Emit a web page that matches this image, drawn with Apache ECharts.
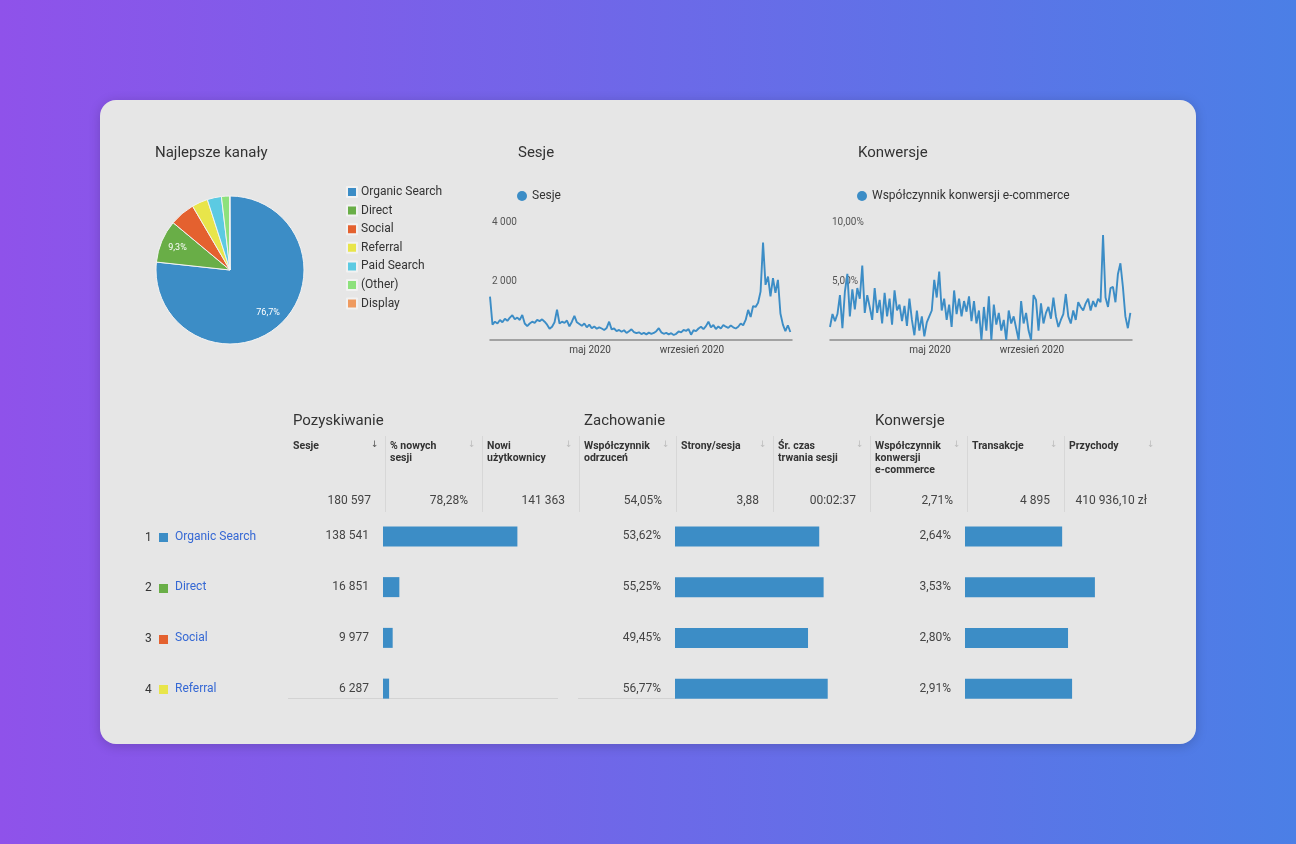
<!DOCTYPE html>
<html lang="pl">
<head>
<meta charset="utf-8">
<title>Najlepsze kanały</title>
<script src="https://cdn.jsdelivr.net/npm/echarts@6/dist/echarts.min.js"></script>
<style>
  html, body { margin: 0; padding: 0; width: 1296px; height: 844px; overflow: hidden;
    background: linear-gradient(90deg, #8f52ea 0%, #4b7fe6 100%);
    font-family: Roboto, "Noto Sans", sans-serif; }
  #card { position: absolute; left: 100px; top: 100px; width: 1096px; height: 644px;
    background: #e6e6e6; border-radius: 16px; box-shadow: 0 2px 12px rgba(0,0,0,0.18); }
  #chart { position: absolute; left: 0; top: 0; width: 1296px; height: 844px; }
  .t { position: absolute; white-space: pre; color: #333; }
  .sec { font-size: 15px; color: #333; }
  .hd { font-size: 10.5px; font-weight: bold; line-height: 12px; color: #333; }
  .arr { font-size: 9px; font-family: "DejaVu Sans", sans-serif; }
  .tot { font-size: 12px; color: #444; text-align: right; width: 90px; }
  .sep { position: absolute; width: 1px; background: #d7d7d7; }
  .num { font-size: 12px; color: #333; }
  .sq { position: absolute; width: 9px; height: 9px; }
  .ch { font-size: 12px; color: #3568d4; }
</style>
</head>
<body>
<div id="card"></div>
<div id="chart"></div>
<script>
// kanały
var channels = ["Organic Search", "Direct", "Social", "Referral", "Paid Search", "(Other)", "Display"];
var channelColors = ["#3c8dc6", "#69ae47", "#e4612f", "#e8e54a", "#5ccae2", "#8de17c", "#ef9b60"];
var channelSessions = [138541, 16851, 9977, 6287, 5600, 3140, 201];

// tabela (4 pierwsze kanały)
var tableChannels = ["Organic Search", "Direct", "Social", "Referral"];
var tableSessions = [138541, 16851, 9977, 6287];
var tableBounce = [53.62, 55.25, 49.45, 56.77];
var tableConv = [2.64, 3.53, 2.80, 2.91];

var headers = ["Sesje", "% nowych\nsesji", "Nowi\nużytkownicy", "Współczynnik\nodrzuceń", "Strony/sesja",
  "Śr. czas\ntrwania sesji", "Współczynnik\nkonwersji\ne-commerce", "Transakcje", "Przychody"];
var totals = ["180 597", "78,28%", "141 363", "54,05%", "3,88", "00:02:37", "2,71%", "4 895", "410 936,10 zł"];
var groups = [["Pozyskiwanie", 0], ["Zachowanie", 3], ["Konwersje", 6]];

// serie czasowe, co 3 dni od 1 stycznia 2020
var sessionsDaily = [
  1470, 520, 620, 560, 680, 600, 720, 650, 760, 840,
  700, 760, 680, 850, 560, 470, 560, 620, 580, 680,
  640, 700, 620, 520, 380, 450, 600, 1030, 560, 620,
  580, 660, 460, 620, 820, 600, 540, 480, 560, 430,
  520, 400, 460, 380, 430, 390, 340, 410, 620, 360,
  390, 300, 340, 280, 330, 240, 300, 360, 270, 230,
  260, 200, 240, 190, 250, 210, 240, 300, 400, 260,
  210, 240, 190, 230, 170, 210, 290, 260, 340, 310,
  370, 180, 330, 300, 390, 450, 370, 470, 620, 430,
  510, 370, 460, 390, 510, 450, 410, 490, 430, 390,
  450, 560, 500, 680, 1020, 780, 1150, 1120, 1260, 1640,
  3300, 1870, 2150, 1480, 2100, 1600, 2040, 900, 520, 300,
  500, 270
];
var convDaily = [
  1.1, 2.2, 1.6, 2.2, 3.8, 1.0, 4.1, 5.6, 2.0, 4.3,
  2.6, 4.4, 3.5, 6.3, 2.3, 3.8, 2.8, 1.7, 4.4, 2.3,
  3.4, 1.4, 4.0, 2.0, 3.5, 1.3, 4.2, 2.5, 3.0, 1.6,
  2.9, 1.2, 3.5, 1.7, 0.4, 2.5, 0.8, 2.0, 0.3, 1.5,
  2.0, 2.5, 5.1, 3.6, 5.8, 2.5, 3.5, 1.7, 3.0, 1.1,
  4.2, 2.2, 3.5, 2.0, 3.3, 2.4, 3.7, 1.6, 3.3, 1.4,
  2.5, 0.0, 2.8, 0.8, 3.7, 0.0, 3.0, 1.3, 2.3, 0.8,
  1.7, 0.0, 2.5, 1.4, 2.0, 1.0, 0.0, 3.3, 1.4, 2.3,
  0.8, 0.0, 3.8, 3.4, 0.8, 3.1, 1.4, 2.3, 2.8, 1.8,
  3.6, 2.0, 1.1, 1.7, 2.2, 3.9, 2.0, 1.4, 2.5, 1.7,
  3.2, 2.8, 2.5, 3.1, 3.5, 2.5, 3.3, 2.8, 3.5, 3.2,
  8.9, 3.6, 2.8, 4.4, 4.5, 3.2, 5.6, 6.5, 4.5, 2.0,
  1.0, 2.3
];
var monthsPl = ["styczeń", "luty", "marzec", "kwiecień", "maj", "czerwiec", "lipiec",
  "sierpień", "wrzesień", "październik", "listopad", "grudzień"];
var labelMonths = [4, 8]; // maj, wrzesień

function fmtInt(n) { return String(n).replace(/\B(?=(\d{3})+(?!\d))/g, " "); }
function fmtPct(v) { return v.toFixed(2).replace(".", ",") + "%"; }

function dayPairs(values) {
  var out = [];
  for (var i = 0; i < values.length; i++) {
    out.push([new Date(2020, 0, 1 + i * 3).getTime(), values[i]]);
  }
  return out;
}

// ---- tekst tabeli (HTML) ----
function addText(cls, html, left, top, extra) {
  var d = document.createElement("div");
  d.className = "t " + cls;
  d.textContent = html;
  d.style.left = left + "px";
  d.style.top = top + "px";
  if (extra) Object.assign(d.style, extra);
  document.body.appendChild(d);
  return d;
}
var colLeft = 288, colW = 97;
groups.forEach(function (g) {
  addText("sec", g[0], colLeft + g[1] * colW + 5, 411);
});
headers.forEach(function (h, i) {
  var x = colLeft + i * colW;
  addText("hd", h, x + 5, 440);
  addText("arr", "↓", x + 83, 439, { color: i === 0 ? "#555" : "#bdbdbd" });
  addText("tot", totals[i], x - 7, 493);
  if (i > 0) {
    var s = document.createElement("div");
    s.className = "sep";
    s.style.left = x + "px"; s.style.top = "436px"; s.style.height = "76px";
    document.body.appendChild(s);
  }
});
tableChannels.forEach(function (c, i) {
  var y = 537 + i * 50.8;
  addText("num", String(i + 1), 145, y - 7.5);
  var sq = document.createElement("div");
  sq.className = "sq";
  sq.style.left = "159px"; sq.style.top = (y - 4) + "px";
  sq.style.background = channelColors[channels.indexOf(c)];
  document.body.appendChild(sq);
  addText("ch", c, 175, y - 8.5);
});

// ---- wykresy ----
var chart = echarts.init(document.getElementById("chart"), null, { renderer: "canvas" });
var lineColor = "#3c8dc6";
var font = "Roboto";
var DAY = 86400000;

function timeAxis(gi) {
  return {
    type: "time", gridIndex: gi,
    min: new Date(2020, 0, 1).getTime(), max: new Date(2020, 11, 31).getTime(),
    minInterval: 28 * DAY, maxInterval: 31 * DAY,
    axisLine: { lineStyle: { color: "#8c8c8c", width: 1.5 } },
    axisTick: { show: false },
    splitLine: { show: false },
    axisLabel: {
      showMinLabel: false, showMaxLabel: false, hideOverlap: false,
      formatter: function (v) {
        var d = new Date(v);
        return labelMonths.indexOf(d.getMonth()) >= 0 && d.getDate() === 1
          ? monthsPl[d.getMonth()] + " " + d.getFullYear() : "";
      },
      color: "#444", fontSize: 10, margin: 5, fontFamily: font
    }
  };
}
function valAxis(gi, max, interval, fmt) {
  return {
    type: "value", gridIndex: gi, min: 0, max: max, interval: interval,
    axisLine: { show: false }, axisTick: { show: false }, splitLine: { show: false },
    axisLabel: { inside: true, margin: 2, showMinLabel: false, formatter: fmt,
      color: "#555", fontSize: 10, fontFamily: font }
  };
}
function catAxis(gi) {
  return { type: "category", gridIndex: gi, data: tableChannels, inverse: true, show: false };
}
function barSeries(idx, data, fmt) {
  return {
    type: "bar", xAxisIndex: idx, yAxisIndex: idx, data: data, barWidth: 20,
    itemStyle: { color: lineColor },
    label: { show: true, position: "left", distance: 14, formatter: function (p) { return fmt(p.value); },
      color: "#444", fontSize: 12, fontFamily: font },
    silent: true
  };
}
var titleStyle = { fontSize: 15, fontWeight: "normal", color: "#333", fontFamily: font };

var option = {
  animation: false,
  color: channelColors,
  textStyle: { fontFamily: font },
  title: [
    { text: "Najlepsze kanały", left: 155, top: 146, padding: 0, textStyle: titleStyle },
    { text: "Sesje", left: 518, top: 146, padding: 0, textStyle: titleStyle },
    { text: "Konwersje", left: 858, top: 146, padding: 0, textStyle: titleStyle }
  ],
  legend: [
    { data: channels, orient: "vertical", left: 346, top: 186, padding: 0, icon: "rect",
      itemWidth: 10, itemHeight: 10, itemGap: 6.6,
      textStyle: { fontSize: 12, color: "#333", lineHeight: 12, padding: [0, 0, 0, -1] } },
    { data: ["Sesje"], left: 517, top: 190, padding: 0, icon: "circle", itemWidth: 10, itemHeight: 10,
      textStyle: { fontSize: 12, color: "#333" } },
    { data: ["Współczynnik konwersji e-commerce"], left: 857, top: 190, padding: 0, icon: "circle",
      itemWidth: 10, itemHeight: 10, textStyle: { fontSize: 12, color: "#333" } }
  ],
  grid: [
    { left: 490, top: 222, width: 302, height: 118 },
    { left: 830, top: 222, width: 302, height: 118 },
    { left: 383, top: 511, width: 194, height: 203 },
    { left: 675, top: 511, width: 269, height: 203 },
    { left: 965, top: 511, width: 184, height: 203 }
  ],
  xAxis: [
    timeAxis(0), timeAxis(1),
    { type: "value", gridIndex: 2, min: 0, max: 200000, show: false },
    { type: "value", gridIndex: 3, min: 0, max: 100, show: false },
    { type: "value", gridIndex: 4, min: 0, max: 5, show: false }
  ],
  yAxis: [
    valAxis(0, 4000, 2000, function (v) { return fmtInt(v); }),
    valAxis(1, 10, 5, function (v) { return fmtPct(v); }),
    catAxis(2), catAxis(3), catAxis(4)
  ],
  graphic: [
    { type: "line", shape: { x1: 288, y1: 698.5, x2: 558, y2: 698.5 }, style: { stroke: "#d3d3d3", lineWidth: 1 }, silent: true },
    { type: "line", shape: { x1: 578, y1: 698.5, x2: 676, y2: 698.5 }, style: { stroke: "#d3d3d3", lineWidth: 1 }, silent: true }
  ],
  series: [
    {
      type: "pie", center: [230, 270], radius: 74, startAngle: 90, clockwise: true,
      data: channels.map(function (c, i) { return { name: c, value: channelSessions[i] }; }),
      label: { show: false }, labelLine: { show: false },
      itemStyle: { borderColor: "#f2f2f2", borderWidth: 1 },
      silent: true
    },
    {
      // przezroczysta warstwa tylko dla etykiet procentowych
      type: "pie", center: [230, 270], radius: 108, startAngle: 90, clockwise: true,
      data: channels.map(function (c, i) { return { name: c, value: channelSessions[i] }; }),
      itemStyle: { color: "rgba(0,0,0,0)" }, avoidLabelOverlap: false, legendHoverLink: false,
      label: { show: true, position: "inside", color: "#fff", fontSize: 9, fontFamily: font,
        formatter: function (p) { return p.percent >= 9 ? p.percent.toFixed(1).replace(".", ",") + "%" : ""; } },
      labelLine: { show: false }, silent: true
    },
    {
      name: "Sesje", type: "line", xAxisIndex: 0, yAxisIndex: 0, data: dayPairs(sessionsDaily),
      showSymbol: false, color: lineColor, lineStyle: { width: 1.9, color: lineColor }, silent: true
    },
    {
      name: "Współczynnik konwersji e-commerce", type: "line", xAxisIndex: 1, yAxisIndex: 1,
      data: dayPairs(convDaily), showSymbol: false, color: lineColor,
      lineStyle: { width: 1.9, color: lineColor }, silent: true
    },
    barSeries(2, tableSessions, fmtInt),
    barSeries(3, tableBounce, fmtPct),
    barSeries(4, tableConv, fmtPct)
  ]
};
chart.setOption(option);
</script>
</body>
</html>
